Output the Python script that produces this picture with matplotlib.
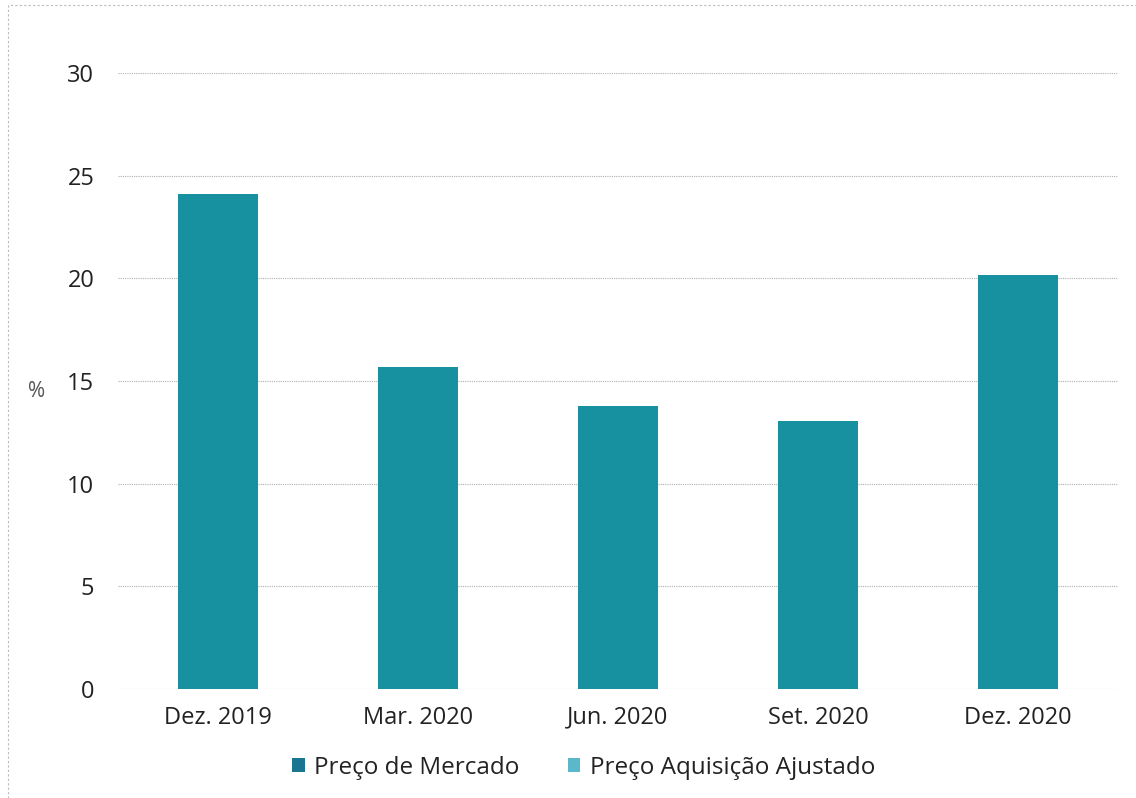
import matplotlib.pyplot as plt
from matplotlib.patches import Patch, Rectangle
import numpy as np

categories = ["Dez. 2019", "Mar. 2020", "Jun. 2020", "Set. 2020", "Dez. 2020"]
preco_mercado = [24.1, 15.7, 13.8, 13.05, 20.15]
series_names = ["Preço de Mercado", "Preço Aquisição Ajustado"]
yticks = [0, 5, 10, 15, 20, 25, 30]

plt.rcParams['font.family'] = ['Open Sans', 'DejaVu Sans']

fig = plt.figure(figsize=(11.36, 7.98), dpi=100)
ax = fig.add_axes([118 / 1136, 1 - 689 / 798, 1000 / 1136, 616 / 798])

x = np.arange(len(categories))
ax.bar(x, preco_mercado, width=0.4, color='#17909f', zorder=2)

ax.set_xlim(-0.5, len(categories) - 0.5)
ax.set_ylim(0, 30)
ax.set_yticks(yticks)
ax.set_xticks(x)
ax.set_xticklabels(categories)
ax.tick_params(axis='both', length=0, labelsize=17, colors='#222222')
ax.tick_params(axis='y', pad=17)
ax.tick_params(axis='x', pad=12)
ax.grid(axis='y', color='#b0b0b0', lw=0.8, ls=(0, (1, 1)), zorder=0)
for s in ax.spines.values():
    s.set_visible(False)
ax.set_ylabel('%', rotation=0, fontsize=15, color='#555555', labelpad=22, va='top')

handles = [Patch(facecolor='#1a7590'), Patch(facecolor='#5ab8ca')]
fig.legend(handles, series_names, loc='center', bbox_to_anchor=(584 / 1136, 1 - 768 / 798),
           ncol=2, frameon=False, fontsize=17.5, handlelength=0.5, handleheight=0.5,
           handletextpad=0.4, columnspacing=2.0, labelcolor='#222222')

# faint dashed border of the original frame
fig.add_artist(Rectangle((8 / 1136, -0.05), 1.2, 1 - 5 / 798 + 0.05, transform=fig.transFigure,
                         fill=False, ec='#bbbbbb', lw=0.8, ls=(0, (2, 2))))

fig.savefig('out.png', dpi=100)
